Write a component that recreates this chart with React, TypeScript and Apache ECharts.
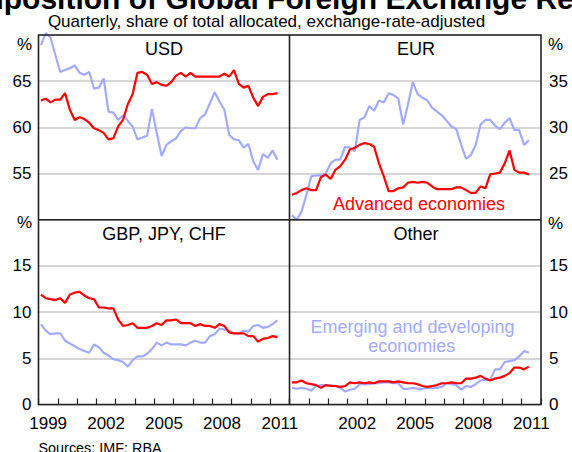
import React, { useEffect, useRef } from "react";
import * as echarts from "echarts";

// Quarterly categories 1999 Q1 – 2011 Q4 (data run to 2011 Q2)
const years = ["1999", "2000", "2001", "2002", "2003", "2004", "2005", "2006", "2007", "2008", "2009", "2010", "2011"];
const quarters: string[] = [];
years.forEach((y) => ["Q1", "Q2", "Q3", "Q4"].forEach((q) => quarters.push(`${y} ${q}`)));

// Advanced economies (red) and Emerging & developing economies (blue), per cent
const usdAdvanced = [62.9, 63.1, 62.7, 63.0, 63.0, 63.7, 61.9, 60.8, 61.1, 60.9, 60.5, 59.9, 59.7, 59.4, 58.7, 58.8, 60.1, 60.8, 62.5, 63.6, 65.9, 66.0, 65.7, 64.7, 64.9, 64.6, 64.5, 64.9, 65.6, 65.9, 65.5, 65.9, 65.5, 65.5, 65.5, 65.5, 65.5, 65.5, 65.8, 65.5, 66.2, 64.7, 64.3, 64.5, 63.2, 62.3, 63.3, 63.6, 63.6, 63.7];
const usdEmerging = [68.9, 70.2, 69.7, 67.8, 66.0, 66.2, 66.4, 66.7, 65.9, 65.7, 66.0, 64.2, 64.3, 65.3, 61.7, 61.6, 60.8, 61.3, 60.7, 60.1, 58.7, 58.9, 59.1, 62.0, 59.4, 56.9, 58.1, 58.5, 58.8, 59.6, 60.0, 59.9, 59.9, 61.0, 61.4, 62.6, 63.8, 62.8, 61.9, 59.2, 58.7, 58.6, 57.8, 58.2, 56.3, 55.4, 57.1, 56.7, 57.5, 56.5];
const eurAdvanced = [22.7, 22.9, 23.2, 23.4, 23.2, 23.2, 24.6, 24.9, 24.4, 25.4, 25.8, 26.5, 27.6, 27.8, 28.1, 28.3, 28.2, 27.9, 26.1, 24.7, 23.1, 23.1, 23.4, 23.5, 24.0, 24.1, 24.0, 24.1, 24.0, 23.6, 23.3, 23.3, 23.3, 23.3, 23.5, 23.5, 23.2, 22.9, 22.9, 23.6, 23.4, 24.9, 25.0, 25.1, 26.1, 27.5, 25.4, 25.1, 25.1, 24.9];
const eurEmerging = [20.5, 20.0, 20.9, 22.7, 24.7, 24.8, 24.8, 25.0, 26.1, 26.5, 26.5, 27.9, 27.8, 27.4, 30.8, 31.1, 32.3, 31.8, 32.9, 32.7, 33.7, 33.5, 33.1, 30.3, 32.5, 34.9, 33.6, 33.2, 32.9, 32.1, 31.7, 31.3, 30.7, 30.1, 29.8, 28.1, 26.6, 27.0, 28.1, 30.3, 30.8, 30.8, 30.2, 29.8, 30.5, 31.0, 29.7, 29.7, 28.1, 28.6];
const gbpAdvanced = [11.9, 11.5, 11.4, 11.3, 11.5, 11.0, 11.9, 12.1, 12.2, 11.8, 11.5, 11.4, 10.5, 10.5, 10.4, 10.4, 9.2, 8.5, 8.6, 8.8, 8.3, 8.3, 8.3, 8.5, 8.8, 8.6, 9.1, 9.1, 9.2, 8.8, 8.8, 8.8, 8.5, 8.7, 8.5, 8.5, 8.3, 8.7, 8.5, 7.8, 7.7, 7.7, 7.7, 7.4, 7.4, 6.8, 7.1, 7.2, 7.4, 7.3];
const gbpEmerging = [8.7, 8.0, 7.6, 7.7, 7.7, 6.9, 6.6, 6.3, 6.0, 5.8, 5.6, 6.5, 6.2, 5.6, 5.3, 4.9, 4.8, 4.6, 4.1, 4.8, 5.2, 5.2, 5.5, 6.0, 6.7, 6.4, 6.7, 6.5, 6.5, 6.5, 6.4, 6.7, 6.9, 6.7, 6.7, 7.4, 7.6, 8.2, 8.1, 8.0, 7.7, 7.7, 8.0, 7.9, 8.5, 8.6, 8.3, 8.4, 8.7, 9.1];
const otherAdvanced = [2.4, 2.4, 2.6, 2.3, 2.2, 2.1, 1.8, 2.1, 2.0, 2.0, 1.9, 2.0, 2.4, 2.3, 2.4, 2.3, 2.4, 2.3, 2.5, 2.5, 2.5, 2.4, 2.5, 2.4, 2.3, 2.3, 2.2, 2.0, 1.9, 2.0, 2.1, 2.3, 2.3, 2.4, 2.3, 2.3, 2.8, 2.8, 2.9, 3.1, 2.8, 2.6, 2.8, 2.9, 3.1, 3.4, 4.0, 4.0, 3.8, 4.1];
const otherEmerging = [1.8, 1.7, 1.8, 1.7, 1.5, 2.0, 2.1, 2.1, 2.1, 2.0, 1.8, 1.4, 1.6, 1.7, 2.2, 2.2, 2.2, 2.3, 2.3, 2.4, 2.4, 2.3, 2.3, 1.7, 1.7, 1.8, 1.7, 1.7, 1.8, 1.8, 1.8, 1.9, 2.3, 2.2, 2.1, 1.6, 2.0, 1.9, 2.2, 2.6, 2.7, 2.7, 3.8, 3.8, 4.6, 4.7, 4.8, 5.2, 5.8, 5.6];

const panelTitles = ["USD", "EUR", "GBP, JPY, CHF", "Other"];
const yRanges = [
  [50, 70],
  [20, 40],
  [0, 20],
  [0, 20],
];

const RED = "#ff0000";
const BLUE = "#a3aaff";
const FONT = '"Liberation Sans", Arial, sans-serif';

export default function App() {
  const ref = useRef<HTMLDivElement>(null);
  useEffect(() => {
    if (!ref.current) return;
    const chart = echarts.init(ref.current, undefined, { renderer: "svg" });

    const L = 38.5, M = 289.5, R = 541, T = 35, H = 219.7, B = 404.5;
    const grids = [
      { left: L, top: T, width: M - L, height: H - T },
      { left: M, top: T, width: R - M, height: H - T },
      { left: L, top: H, width: M - L, height: B - H },
      { left: M, top: H, width: R - M, height: B - H },
    ];

    const xAxis: any[] = grids.map((_, k) => ({
      type: "category",
      gridIndex: k,
      data: quarters,
      boundaryGap: true,
      position: "top",
      show: false,
    }));
    [2, 3].forEach((k) => {
      xAxis.push({
        type: "category",
        gridIndex: k,
        position: "bottom",
        data: years,
        boundaryGap: true,
        axisLine: { show: false },
        axisTick: { show: true, inside: true, length: 6, interval: 0, lineStyle: { color: "#222", width: 1.2 } },
        axisLabel: {
          interval: (i: number) => (k === 2 ? i % 3 === 0 : i % 3 === 0 && i > 0),
          margin: 10,
          fontSize: 17,
          color: "#000",
          fontFamily: FONT,
        },
        splitLine: { show: false },
      });
    });

    const yAxis = grids.map((_, k) => ({
      type: "value",
      gridIndex: k,
      min: yRanges[k][0],
      max: yRanges[k][1],
      interval: 5,
      position: k % 2 === 0 ? "left" : "right",
      axisLine: { show: false },
      axisTick: { show: false },
      axisLabel: {
        fontSize: 17,
        color: "#000",
        fontFamily: FONT,
        margin: k % 2 === 0 ? 7 : 8,
        formatter: (v: number) => {
          if (v === yRanges[k][1]) return "";
          if (k < 2 && v === yRanges[k][0]) return "";
          return String(v);
        },
      },
      splitLine: { show: true, lineStyle: { color: "#c8c8c8", width: 1.5 } },
    }));

    const pairs = [
      [usdAdvanced, usdEmerging],
      [eurAdvanced, eurEmerging],
      [gbpAdvanced, gbpEmerging],
      [otherAdvanced, otherEmerging],
    ];
    const series: any[] = [];
    pairs.forEach(([adv, em], k) => {
      series.push({
        type: "line",
        xAxisIndex: k,
        yAxisIndex: k,
        data: em,
        symbol: "none",
        clip: false,
        lineStyle: { color: BLUE, width: 2.2 },
        z: 3,
      });
      series.push({
        type: "line",
        xAxisIndex: k,
        yAxisIndex: k,
        data: adv,
        symbol: "none",
        clip: false,
        lineStyle: { color: RED, width: 2.2 },
        z: 4,
      });
    });

    const txt = (text: string, x: number, y: number, opts: any = {}) => ({
      type: "text",
      x,
      y,
      z: 120,
      style: {
        text,
        fontSize: 17,
        fontFamily: FONT,
        fill: "#000",
        align: "center",
        verticalAlign: "middle",
        ...opts,
      },
    });

    const graphic: any[] = [
      {
        type: "rect",
        z: 100,
        shape: { x: L, y: T, width: R - L, height: B - T },
        style: { fill: "none", stroke: "#222", lineWidth: 1.6 },
      },
      { type: "line", z: 100, shape: { x1: M, y1: T, x2: M, y2: B }, style: { stroke: "#222", lineWidth: 1.6 } },
      { type: "line", z: 100, shape: { x1: L, y1: H, x2: R, y2: H }, style: { stroke: "#222", lineWidth: 1.6 } },
      txt("Composition of Global Foreign Exchange Reserves", 303, -2, { fontSize: 30, fontWeight: "bold" }),
      txt("Quarterly, share of total allocated, exchange-rate-adjusted", 266.5, 21.5, { fontSize: 17 }),
      txt(panelTitles[0], 164, 49, { fontSize: 18 }),
      txt(panelTitles[1], 416, 49, { fontSize: 18 }),
      txt(panelTitles[2], 164, 234, { fontSize: 18 }),
      txt(panelTitles[3], 416, 234, { fontSize: 18 }),
      txt("Advanced economies", 419, 203.5, { fontSize: 18, fill: RED }),
      txt("Emerging and developing", 412.5, 326.5, { fontSize: 18, fill: BLUE }),
      txt("economies", 411.7, 345.5, { fontSize: 18, fill: BLUE }),
      txt("%", 32, 44.5, { align: "right" }),
      txt("%", 548, 44.5, { align: "left" }),
      txt("%", 32, 222.5, { align: "right" }),
      txt("%", 548, 223, { align: "left" }),
      txt("Sources: IMF; RBA", 38.5, 448.3, { fontSize: 14.4, align: "left" }),
    ];

    chart.setOption({
      animation: false,
      textStyle: { fontFamily: FONT },
      grid: grids.map((g) => ({ ...g, containLabel: false })),
      xAxis,
      yAxis,
      series,
      graphic,
    });
    return () => chart.dispose();
  }, []);

  return (
    <div
      ref={ref}
      style={{ position: "absolute", left: 0, top: 0, width: 572, height: 452, background: "#fff" }}
    />
  );
}
